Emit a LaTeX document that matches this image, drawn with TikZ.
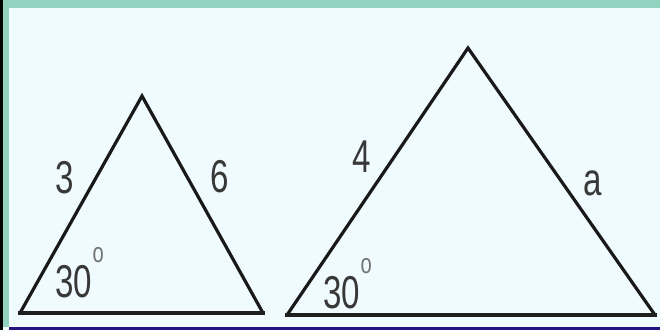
\documentclass[tikz,border=0pt]{standalone}
\usepackage{fontspec}
\setmainfont{Liberation Sans}
\usetikzlibrary{positioning}
\definecolor{mintframe}{RGB}{146, 211, 192}
\definecolor{paleback}{RGB}{240, 251, 255}
\definecolor{deepindigo}{RGB}{38, 18, 128}
\newcommand{\degmark}{\kern1pt\raisebox{35pt}{\fontsize{28}{28}\selectfont\color{black!55}o}}
\tikzset{
  side/.style={line width=3.2pt, color=black!90, line join=miter},
  baseline/.style={line width=4.6pt, color=black!88, line cap=rect},
  sidelabel/.style={font=\fontsize{46}{46}\selectfont, text=black!78, xscale=0.72, inner sep=0pt},
}

\begin{document}
\begin{tikzpicture}[x=1pt, y=-1pt]
        % Frame and background
        \fill[paleback] (0, 0) rectangle (660, 330);
        \fill[mintframe] (0, 0) rectangle (660, 8);
        \fill[mintframe] (0, 0) rectangle (9, 327);
        \fill[black] (0, 0) rectangle (3, 330);
        \fill[deepindigo] (9, 327) rectangle (660, 330);
        \useasboundingbox (0, 0) rectangle (660, 330);

        % Small triangle
        \coordinate (small-left) at (20, 313);
        \coordinate (small-top) at (142, 96);
        \coordinate (small-right) at (263, 313);
        \draw[side] (small-right) -- (small-top) -- (small-left);
        \draw[baseline] (small-left) -- (small-right);
        \node[sidelabel] (small-three) at (65, 178) {3};
        \node[sidelabel] (small-six) at (220, 177) {6};
        \node[sidelabel, anchor=base west] (small-angle) at (55, 297) {30\degmark};

        % Large triangle
        \coordinate (large-left) at (287, 315);
        \coordinate (large-top) at (468, 48);
        \coordinate (large-right) at (655, 315);
        \draw[side] (large-right) -- (large-top) -- (large-left);
        \draw[baseline] (large-left) -- (large-right);
        \node[sidelabel] (large-four) at (362, 157) {4};
        \node[sidelabel] (large-a) at (593, 183) {a};
        \node[sidelabel, anchor=base west] (large-angle) at (323, 308) {30\degmark};
\end{tikzpicture}
\end{document}
